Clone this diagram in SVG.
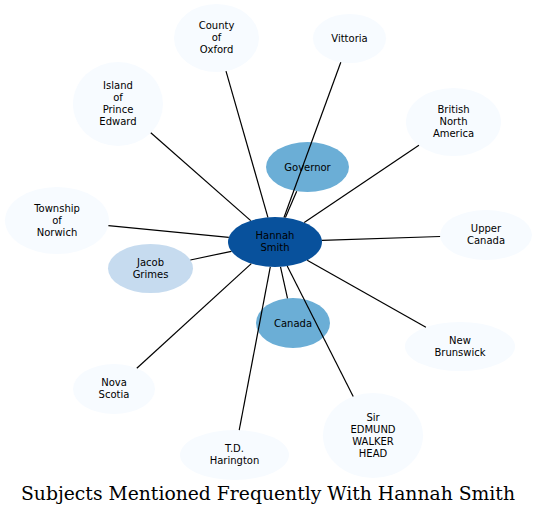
<svg xmlns="http://www.w3.org/2000/svg" width="537" height="516" viewBox="0 0 537 516">
<style>
text{font-family:"DejaVu Sans",sans-serif;font-size:10px;text-anchor:middle;fill:#000}
.l0{fill:#f7fbff}.l1{fill:#c6dbef}.l2{fill:#6baed6}.l3{fill:#08519c}
#edges line{stroke:#000;stroke-width:1.2}
.title{font-family:"DejaVu Serif",serif;font-size:18px}
</style>
<rect width="537" height="516" fill="#fff"/>
<g id="n_oxford"><ellipse class="l0" cx="216.5" cy="38" rx="42.5" ry="34"/><text x="216.5" y="29">County</text><text x="216.5" y="41">of</text><text x="216.5" y="53">Oxford</text></g>
<g id="n_vittoria"><ellipse class="l0" cx="349.5" cy="38.5" rx="36.5" ry="24.5"/><text x="349.5" y="42">Vittoria</text></g>
<g id="n_island"><ellipse class="l0" cx="118" cy="104" rx="45" ry="42"/><text x="118" y="89">Island</text><text x="118" y="101">of</text><text x="118" y="113">Prince</text><text x="118" y="125">Edward</text></g>
<g id="n_bna"><ellipse class="l0" cx="453.5" cy="122" rx="47.5" ry="34"/><text x="453.5" y="113">British</text><text x="453.5" y="125">North</text><text x="453.5" y="137">America</text></g>
<g id="n_governor"><ellipse class="l2" cx="307.5" cy="167" rx="41.5" ry="25"/><text x="307.5" y="170.5">Governor</text></g>
<g id="n_norwich"><ellipse class="l0" cx="57" cy="220.5" rx="52" ry="33.5"/><text x="57" y="211.5">Township</text><text x="57" y="223.5">of</text><text x="57" y="235.5">Norwich</text></g>
<g id="n_hannah"><ellipse class="l3" cx="275" cy="242" rx="47" ry="25"/><text x="275" y="239">Hannah</text><text x="275" y="251">Smith</text></g>
<g id="n_upper"><ellipse class="l0" cx="486" cy="235" rx="46" ry="25"/><text x="486" y="232">Upper</text><text x="486" y="244">Canada</text></g>
<g id="n_jacob"><ellipse class="l1" cx="150.5" cy="268.5" rx="42.5" ry="24.5"/><text x="150.5" y="265.5">Jacob</text><text x="150.5" y="277.5">Grimes</text></g>
<g id="n_canada"><ellipse class="l2" cx="293" cy="323" rx="37" ry="25"/><text x="293" y="326.5">Canada</text></g>
<g id="n_nb"><ellipse class="l0" cx="460" cy="346.5" rx="55" ry="24.5"/><text x="460" y="343.5">New</text><text x="460" y="355.5">Brunswick</text></g>
<g id="n_nova"><ellipse class="l0" cx="114" cy="389" rx="41" ry="25"/><text x="114" y="386">Nova</text><text x="114" y="398">Scotia</text></g>
<g id="n_sir"><ellipse class="l0" cx="373" cy="435.5" rx="50" ry="42.5"/><text x="373" y="420.5">Sir</text><text x="373" y="432.5">EDMUND</text><text x="373" y="444.5">WALKER</text><text x="373" y="456.5">HEAD</text></g>
<g id="n_td"><ellipse class="l0" cx="234.5" cy="455" rx="54.5" ry="25"/><text x="234.5" y="452">T.D.</text><text x="234.5" y="464">Harington</text></g>
<g id="edges">
<line x1="267.9" y1="217.3" x2="226.0" y2="71.1"/>
<line x1="284.0" y1="217.5" x2="340.8" y2="62.3"/>
<line x1="250.7" y1="220.6" x2="150.8" y2="132.8"/>
<line x1="304.2" y1="222.4" x2="418.9" y2="145.3"/>
<line x1="228.8" y1="237.4" x2="108.4" y2="225.6"/>
<line x1="321.9" y1="240.4" x2="440.1" y2="236.5"/>
<line x1="307.2" y1="260.2" x2="425.9" y2="327.3"/>
<line x1="251.3" y1="263.6" x2="136.8" y2="368.2"/>
<line x1="270.3" y1="266.9" x2="239.2" y2="430.1"/>
<line x1="287.2" y1="266.1" x2="353.2" y2="396.5"/>
<line x1="231.4" y1="251.3" x2="190.4" y2="260.0"/>
<line x1="285.4" y1="217.6" x2="296.7" y2="191.2"/>
<line x1="280.5" y1="266.8" x2="287.5" y2="298.3"/>
</g>
<text class="title" x="268" y="499.5" textLength="494" lengthAdjust="spacingAndGlyphs">Subjects Mentioned Frequently With Hannah Smith</text>
</svg>
